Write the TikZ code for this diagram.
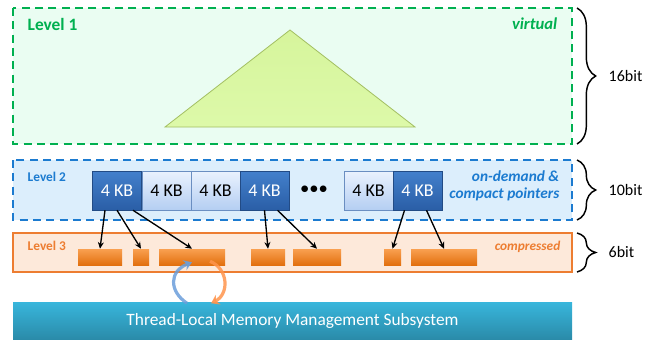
\documentclass[tikz,border=0pt]{standalone}
\usepackage{fontspec}
\setmainfont{Carlito}
\usetikzlibrary{calc,arrows.meta,decorations.pathreplacing}

\definecolor{lvgreen}{HTML}{00B050}
\definecolor{lvgreenbg}{HTML}{EAFDF2}
\definecolor{lvblue}{HTML}{1C7BD0}
\definecolor{lvbluebg}{HTML}{DCEEFC}
\definecolor{lvorange}{HTML}{ED7D31}
\definecolor{lvorangebg}{HTML}{FDE9DA}
\definecolor{kbdarktop}{HTML}{4380CC}
\definecolor{kbdarkbot}{HTML}{2A5EA6}
\definecolor{kblighttop}{HTML}{EAF2FE}
\definecolor{kblightbot}{HTML}{B4CEF2}
\definecolor{chunktop}{HTML}{F9A050}
\definecolor{chunkbot}{HTML}{E2700F}
\definecolor{bartop}{HTML}{38B6DC}
\definecolor{barbot}{HTML}{2A8AA8}
\definecolor{tritop}{HTML}{D6F59C}
\definecolor{tribot}{HTML}{DDF9A9}
\definecolor{triedge}{HTML}{A3BF62}

\tikzset{
    kbdark/.style={draw=kbdarkbot!80!black, top color=kbdarktop, bottom color=kbdarkbot,
        minimum width=36.75pt, minimum height=29.25pt, inner sep=0pt, text=white,
        font=\fontsize{13.5}{14}\selectfont},
    kblight/.style={kbdark, draw=kbdarkbot!70, top color=kblighttop, bottom color=kblightbot, text=black},
    chunk/.style={top color=chunktop, bottom color=chunkbot, minimum height=12pt, inner sep=0pt},
    ptr/.style={-{Stealth[length=5pt,width=4.5pt]}, line width=1pt},
    bitbrace/.style={decorate, decoration={brace, amplitude=14pt, aspect=0.5}, line width=1.1pt},
    bitlabel/.style={anchor=west, font=\fontsize{12}{14}\selectfont},
}

\begin{document}
\begin{tikzpicture}[x=0.75pt, y=-0.75pt]
    \useasboundingbox (0,0) rectangle (652,339);

    % Level 1
    \filldraw[fill=lvgreenbg, draw=lvgreen, line width=1.5pt, dash pattern=on 6pt off 4pt]
        (13,8) rectangle (572,144);
    \node[anchor=west, text=lvgreen, font=\bfseries\fontsize{13}{14}\selectfont] (lv1) at (23,24) {Level 1};
    \node[anchor=east, text=lvgreen, font=\bfseries\itshape\fontsize{12.5}{14}\selectfont] (virt) at (562,24) {virtual};
    \shade[top color=tritop, bottom color=tribot, draw=triedge, line width=0.6pt]
        (290,30) -- (415,127) -- (165,127) -- cycle;

    % Level 2
    \filldraw[fill=lvbluebg, draw=lvblue, line width=1.5pt, dash pattern=on 6pt off 4pt]
        (13,160) rectangle (572,220);
    \node[anchor=west, text=lvblue, font=\bfseries\fontsize{10}{12}\selectfont] (lv2) at (23,177) {Level 2};
    \node[anchor=east, align=right, text=lvblue, font=\bfseries\itshape\fontsize{11.5}{13}\selectfont] (odp) at (564,186)
        {on-demand \&\\compact pointers};

    \node[kbdark] (kb1) at (117,190.5) {4 KB};
    \node[kblight] (kb2) at (166.5,190.5) {4 KB};
    \node[kblight] (kb3) at (215.5,190.5) {4 KB};
    \node[kbdark] (kb4) at (264.5,190.5) {4 KB};
    \node[font=\fontsize{14}{14}\selectfont] (dots) at (314,190) {•••};
    \node[kblight] (kb5) at (368.5,190.5) {4 KB};
    \node[kbdark] (kb6) at (417.5,190.5) {4 KB};

    % Level 3
    \filldraw[fill=lvorangebg, draw=lvorange, line width=1.2pt] (13,233) rectangle (572,272);
    \node[anchor=west, text=lvorange, font=\bfseries\fontsize{10}{12}\selectfont] (lv3) at (23,246) {Level 3};
    \node[anchor=east, text=lvorange, font=\bfseries\itshape\fontsize{10}{12}\selectfont] (cmp) at (565,247) {compressed};

    \node[chunk, minimum width=33pt] (c1) at (100,257) {};
    \node[chunk, minimum width=12pt] (c2) at (141,257) {};
    \node[chunk, minimum width=49.5pt] (c3) at (192,257) {};
    \node[chunk, minimum width=25.5pt] (c4) at (268,257) {};
    \node[chunk, minimum width=36pt] (c5) at (317,257) {};
    \node[chunk, minimum width=12.75pt] (c6) at (392.5,257) {};
    \node[chunk, minimum width=49.5pt] (c7) at (444,257) {};

    % Draw the pointers
    \draw[ptr] ($(kb1.south)+(-12,0)$) -- (c1.north);
    \draw[ptr] (kb1.south) -- (c2.north);
    \draw[ptr] ($(kb1.south)+(16,0)$) -- (c3.north);
    \draw[ptr] (kb4.south) -- (c4.north);
    \draw[ptr] ($(kb4.south)+(13,0)$) -- (c5.north);
    \draw[ptr] ($(kb6.south)+(-13,0)$) -- (c6.north);
    \draw[ptr] ($(kb6.south)+(9,0)$) -- (c7.north);

    % Memory subsystem
    \node[top color=bartop, bottom color=barbot, minimum width=419.25pt, minimum height=28.5pt, inner sep=0pt,
        text=white, font=\fontsize{13}{14}\selectfont] (tmm) at (292.5,321) {Thread-Local Memory Management Subsystem};

    \draw[-{Stealth[length=6pt,width=8pt]}, line width=2.4pt, draw=cyan!55!blue!60, opacity=0.85]
        ($(c3.south)+(-5,38)$) .. controls +(-18,-12) and +(-23,9) .. ($(c3.south)+(0,-3)$);
    \draw[-{Stealth[length=6pt,width=8pt]}, line width=2.4pt, draw=orange!80!red!70, opacity=0.85]
        ($(c3.south)+(18,-4)$) .. controls +(19,8) and +(18,-9) .. ($(c3.south)+(19,38)$);

    % Braces
    \draw[bitbrace] (577,8) -- (577,144);
    \node[bitlabel] (b16) at (604,76) {16bit};
    \draw[bitbrace] (577,160) -- (577,220);
    \node[bitlabel] (b10) at (604,190) {10bit};
    \draw[bitbrace] (577,233) -- (577,272);
    \node[bitlabel] (b6) at (604,252) {6bit};
\end{tikzpicture}
\end{document}
